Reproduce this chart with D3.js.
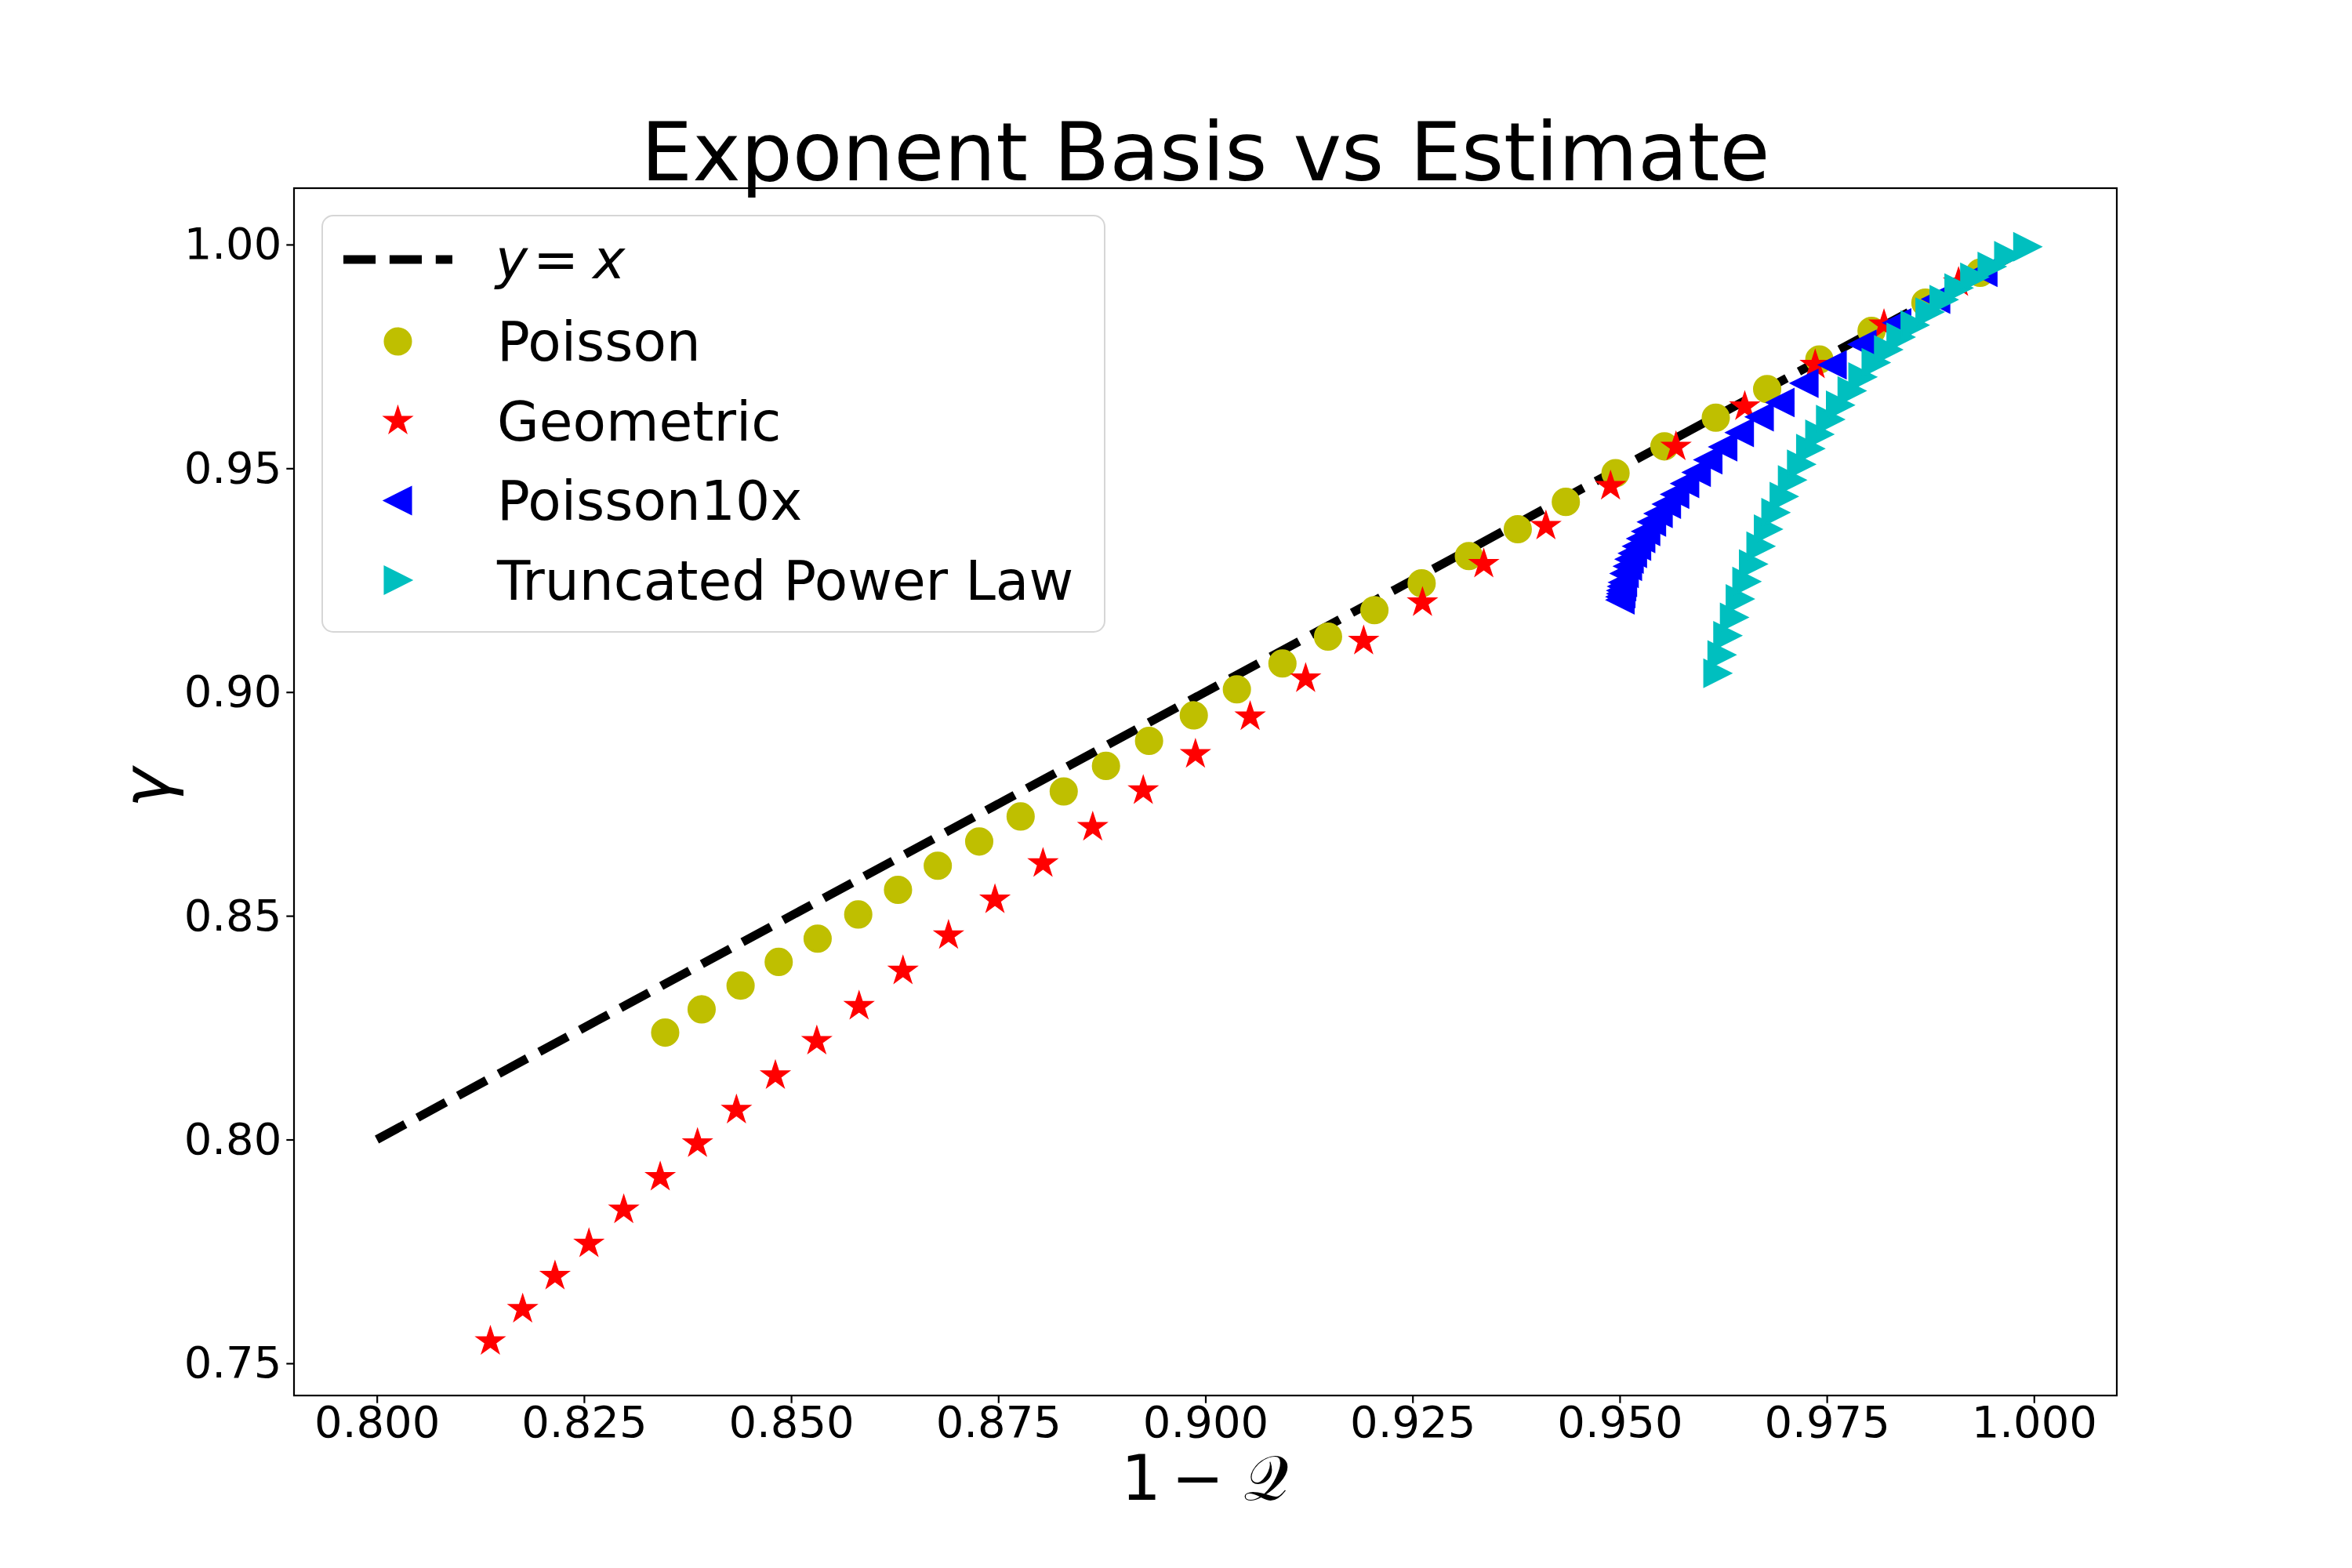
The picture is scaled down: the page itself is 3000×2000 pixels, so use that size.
<!DOCTYPE html>
<html>
<head>
<meta charset="utf-8">
<script src="https://cdn.jsdelivr.net/npm/d3@7"></script>
<style>
	body { margin: 0; background: #fff; }
	text { font-family: "DejaVu Sans", sans-serif; }
</style>
</head>
<body>
<div id="visualisation"></div>
<script>

/** Données **/

// ligne y = x
var ligneX = [0.8, 1.0];

// Poisson (cercles jaunes)
var poissonX = [0.8348, 0.8392, 0.8439, 0.8485, 0.8532, 0.8581, 0.8629, 0.8677, 0.8727, 0.8777, 0.8829, 0.8880, 0.8932, 0.8986, 0.9038,
                0.9093, 0.9148, 0.9204, 0.9261, 0.9318, 0.9377, 0.9435, 0.9495, 0.9554, 0.9616, 0.9678, 0.9741, 0.9804, 0.9869, 0.9935];
var poissonY = [0.8239, 0.8291, 0.8344, 0.8397, 0.8449, 0.8503, 0.8558, 0.8612, 0.8666, 0.8722, 0.8778, 0.8835, 0.8891, 0.8948, 0.9006,
                0.9064, 0.9124, 0.9183, 0.9243, 0.9304, 0.9364, 0.9425, 0.9489, 0.9549, 0.9613, 0.9677, 0.9743, 0.9807, 0.9870, 0.9937];

// Geometric (étoiles rouges)
var geometricX = [0.8137, 0.8176, 0.8215, 0.8256, 0.8298, 0.8342, 0.8387, 0.8434, 0.8481, 0.8531, 0.8582, 0.8635, 0.8690, 0.8746, 0.8804,
                  0.8864, 0.8925, 0.8988, 0.9054, 0.9121, 0.9191, 0.9262, 0.9336, 0.9411, 0.9489, 0.9568, 0.9651, 0.9736, 0.9819, 0.9909];
var geometricY = [0.7549, 0.7621, 0.7695, 0.7767, 0.7843, 0.7916, 0.7991, 0.8066, 0.8143, 0.8220, 0.8298, 0.8377, 0.8456, 0.8536, 0.8617,
                  0.8698, 0.8780, 0.8861, 0.8945, 0.9030, 0.9114, 0.9200, 0.9286, 0.9371, 0.9460, 0.9548, 0.9638, 0.9731, 0.9821, 0.9915];

// Poisson10x (triangles bleus vers la gauche)
var poisson10xX = [0.9501, 0.9501, 0.9502, 0.9502, 0.9503, 0.9504, 0.9506, 0.9510, 0.9512, 0.9516, 0.9521, 0.9526, 0.9532, 0.9539, 0.9547,
                   0.9557, 0.9567, 0.9579, 0.9593, 0.9607, 0.9625, 0.9645, 0.9669, 0.9694, 0.9723, 0.9757, 0.9793, 0.9835, 0.9882, 0.9939];
var poisson10xY = [0.9206, 0.9213, 0.9220, 0.9227, 0.9236, 0.9245, 0.9265, 0.9281, 0.9297, 0.9310, 0.9326, 0.9343, 0.9359, 0.9380, 0.9399,
                   0.9420, 0.9442, 0.9466, 0.9491, 0.9519, 0.9548, 0.9580, 0.9615, 0.9647, 0.9690, 0.9731, 0.9777, 0.9825, 0.9878, 0.9938];

// Truncated Power Law (triangles cyan vers la droite)
var tplX = [0.9618, 0.9623, 0.9630, 0.9638, 0.9645, 0.9653, 0.9661, 0.9670, 0.9679, 0.9688, 0.9698, 0.9708, 0.9719, 0.9730, 0.9741,
            0.9754, 0.9766, 0.9780, 0.9793, 0.9809, 0.9824, 0.9839, 0.9856, 0.9874, 0.9891, 0.9909, 0.9928, 0.9949, 0.9969, 0.9992];
var tplY = [0.9042, 0.9083, 0.9126, 0.9167, 0.9208, 0.9247, 0.9286, 0.9326, 0.9364, 0.9401, 0.9437, 0.9474, 0.9509, 0.9544, 0.9576,
            0.9609, 0.9641, 0.9673, 0.9704, 0.9736, 0.9765, 0.9793, 0.9820, 0.9849, 0.9877, 0.9903, 0.9927, 0.9951, 0.9975, 0.9995];

// graduations
var xTicks = [0.800, 0.825, 0.850, 0.875, 0.900, 0.925, 0.950, 0.975, 1.000];
var xTickLabels = ["0.800", "0.825", "0.850", "0.875", "0.900", "0.925", "0.950", "0.975", "1.000"];
var yTicks = [0.75, 0.80, 0.85, 0.90, 0.95, 1.00];
var yTickLabels = ["0.75", "0.80", "0.85", "0.90", "0.95", "1.00"];

var legendLabels = ["Poisson", "Geometric", "Poisson10x", "Truncated Power Law"];


/** Initialisation de la visualisation **/

var svg = d3.select("#visualisation")
	.append("svg")
	.attr("width", 3000)
	.attr("height", 2000)
	.style("background", "#fff");

var posAxes = {"x" : 375, "y" : 240, "width" : 2325, "height" : 1540};

var x = d3.scaleLinear().domain([0.79, 1.01]).range([posAxes.x, posAxes.x + posAxes.width]);
var y = d3.scaleLinear().domain([0.7428, 1.0126]).range([posAxes.y + posAxes.height, posAxes.y]);

var ms = 33.3;          // taille des marqueurs (12pt à 200 dpi)
var edge = 2.78;        // bord des marqueurs
var dash = "41.1,17.8"; // motif '--' pour un trait de 4pt

var color = {"ligne" : "#000000", "poisson" : "#bfbf00", "geometric" : "#ff0000", "poisson10x" : "#0000ff", "tpl" : "#00bfbf"};


//Formes des marqueurs (comme matplotlib : rayon = ms / 2)

function circlePath(r)
{
	return "M" + (-r) + ",0A" + r + "," + r + " 0 1,0 " + r + ",0A" + r + "," + r + " 0 1,0 " + (-r) + ",0Z";
}

function starPath(r)
{
	var pts = [];
	for(var i = 0; i < 10; i++)
	{
		var a = -Math.PI / 2 + i * Math.PI / 5;
		var rr = (i % 2 == 0) ? r : r * 0.381966;
		pts.push([rr * Math.cos(a), rr * Math.sin(a)]);
	}
	return "M" + pts.map(function(p){return p.join(",");}).join("L") + "Z";
}

function triLeftPath(r)
{
	return "M" + (-r) + ",0L" + r + "," + (-r) + "L" + r + "," + r + "Z";
}

function triRightPath(r)
{
	return "M" + r + ",0L" + (-r) + "," + (-r) + "L" + (-r) + "," + r + "Z";
}

var series = [
	{"name" : legendLabels[0], "xs" : poissonX, "ys" : poissonY, "color" : color.poisson, "path" : circlePath(ms / 2)},
	{"name" : legendLabels[1], "xs" : geometricX, "ys" : geometricY, "color" : color.geometric, "path" : starPath(ms / 2)},
	{"name" : legendLabels[2], "xs" : poisson10xX, "ys" : poisson10xY, "color" : color.poisson10x, "path" : triLeftPath(ms / 2)},
	{"name" : legendLabels[3], "xs" : tplX, "ys" : tplY, "color" : color.tpl, "path" : triRightPath(ms / 2)}
];


//Axes

var xAxis = d3.axisBottom(x)
	.tickValues(xTicks)
	.tickFormat(function(d, i){return xTickLabels[i];})
	.tickSize(9.7)
	.tickPadding(4);

var yAxis = d3.axisLeft(y)
	.tickValues(yTicks)
	.tickFormat(function(d, i){return yTickLabels[i];})
	.tickSize(9.7)
	.tickPadding(6);

var gx = svg.append("g")
	.attr("transform", "translate(0," + (posAxes.y + posAxes.height) + ")")
	.call(xAxis);

var gy = svg.append("g")
	.attr("transform", "translate(" + posAxes.x + ",0)")
	.call(yAxis);

[gx, gy].forEach(function(g)
{
	g.select(".domain").remove();
	g.selectAll(".tick line").attr("stroke", "#000").attr("stroke-width", 2.2);
	g.selectAll(".tick text")
		.attr("fill", "#000")
		.style("font-family", "'DejaVu Sans'")
		.style("font-size", "56px");
});


//Courbes

var plotGroup = svg.append("g").attr("id", "svg_group_plot");

plotGroup.append("path")
	.datum(ligneX.map(function(v){return [v, v];}))
	.attr("d", d3.line().x(function(d){return x(d[0]);}).y(function(d){return y(d[1]);}))
	.attr("fill", "none")
	.attr("stroke", color.ligne)
	.attr("stroke-width", 11.1)
	.attr("stroke-dasharray", dash);

series.forEach(function(s, k)
{
	plotGroup.append("g")
		.attr("class", "serie_" + k)
		.selectAll("path")
		.data(d3.zip(s.xs, s.ys))
		.enter()
			.append("path")
			.attr("d", s.path)
			.attr("transform", function(d){return "translate(" + x(d[0]) + "," + y(d[1]) + ")";})
			.attr("fill", s.color)
			.attr("stroke", s.color)
			.attr("stroke-width", edge)
			.attr("stroke-linejoin", "miter");
});


//Cadre

svg.append("rect")
	.attr("x", posAxes.x)
	.attr("y", posAxes.y)
	.attr("width", posAxes.width)
	.attr("height", posAxes.height)
	.attr("fill", "none")
	.attr("stroke", "#000")
	.attr("stroke-width", 2.2);


//Légende

var legend = svg.append("g").attr("id", "svg_group_legend");

legend.append("rect")
	.attr("x", 411)
	.attr("y", 275)
	.attr("width", 998)
	.attr("height", 531)
	.attr("rx", 14)
	.attr("fill", "#fff")
	.attr("fill-opacity", 0.8)
	.attr("stroke", "#d6d6d6")
	.attr("stroke-width", 2);

var rowY = [331, 435.5, 537, 638.5, 740];
var fontLeg = 69.4;

legend.append("line")
	.attr("x1", 438)
	.attr("x2", 577)
	.attr("y1", rowY[0])
	.attr("y2", rowY[0])
	.attr("stroke", color.ligne)
	.attr("stroke-width", 11.1)
	.attr("stroke-dasharray", dash);

var eq = legend.append("text")
	.attr("x", 632)
	.attr("y", rowY[0] + 24)
	.style("font-size", fontLeg + "px");
eq.append("tspan").style("font-style", "italic").text("y");
eq.append("tspan").attr("dx", 7).text("=");
eq.append("tspan").attr("dx", 18).style("font-style", "italic").text("x");

series.forEach(function(s, k)
{
	legend.append("path")
		.attr("d", s.path)
		.attr("transform", "translate(507.5," + rowY[k + 1] + ")")
		.attr("fill", s.color)
		.attr("stroke", s.color)
		.attr("stroke-width", edge);

	legend.append("text")
		.attr("x", 634)
		.attr("y", rowY[k + 1] + 24.5)
		.style("font-size", fontLeg + "px")
		.text(s.name);
});


//Titre et libellés des axes

svg.append("text")
	.attr("x", posAxes.x + posAxes.width / 2)
	.attr("y", 230)
	.attr("text-anchor", "middle")
	.style("font-size", "104px")
	.text("Exponent Basis vs Estimate");

var xLabel = svg.append("text")
	.attr("y", 1913)
	.style("font-size", "80px");
xLabel.append("tspan").attr("x", 1430).text("1");
xLabel.append("tspan").attr("x", 1494).text("\u2212");
xLabel.append("tspan").attr("x", 1586).style("font-family", "'DejaVu Serif', 'DejaVu Sans', serif").text("\uD835\uDCAC");

svg.append("text")
	.attr("transform", "translate(216,1005) rotate(-90)")
	.attr("text-anchor", "middle")
	.style("font-size", "86px")
	.style("font-style", "italic")
	.text("\u03B3");

</script>
</body>
</html>
